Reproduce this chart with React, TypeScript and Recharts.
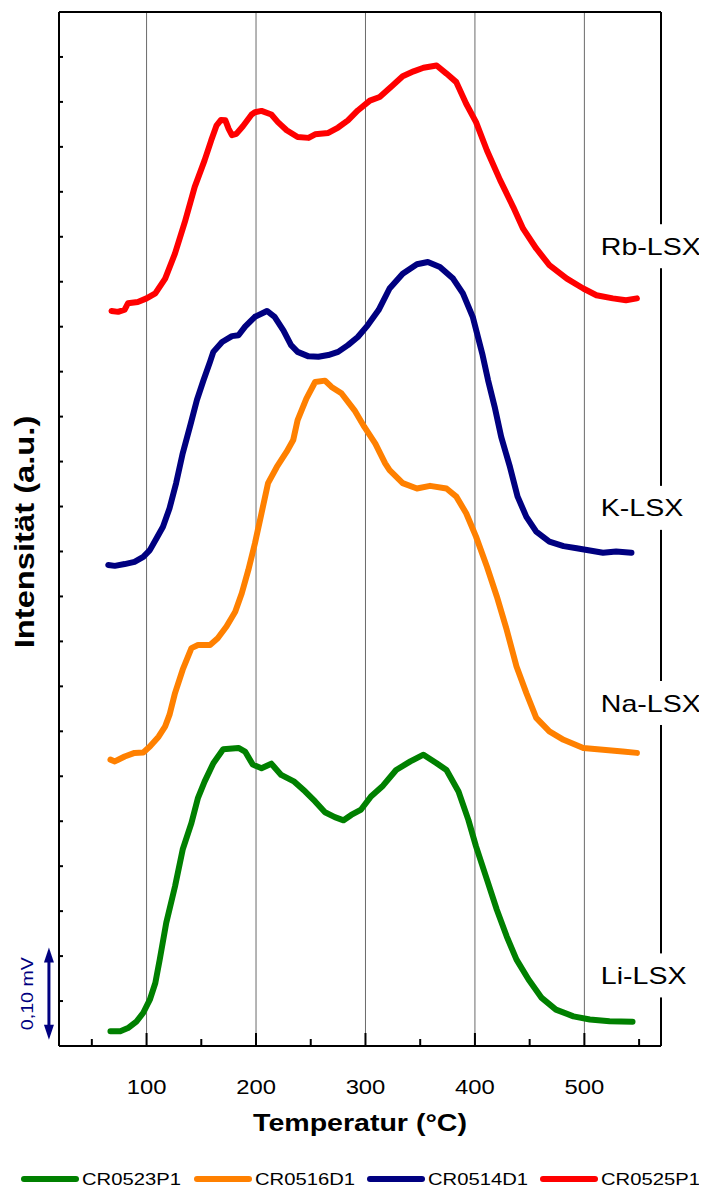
import React from 'react';
import { LineChart, Line, XAxis, YAxis, ReferenceLine, ReferenceDot, Legend, Label } from 'recharts';

// ---------- data ----------
const xTicks = [50, 100, 150, 200, 250, 300, 350, 400, 450, 500, 550];
const xMajor = [100, 200, 300, 400, 500];
const yTicks = Array.from({ length: 24 }, (_, i) => i);

// Li-LSX (CR0523P1)
const greenT = [67, 76, 83, 91, 97, 103, 108, 112, 118, 126, 133, 141, 147, 153, 161, 170, 184, 190, 197, 205, 214, 223, 235, 245, 254, 263, 272, 280, 287, 296, 305, 316, 328, 341, 353, 365, 374, 385, 394, 401, 411, 420, 429, 438, 449, 461, 474, 490, 505, 523, 544];
const greenV = [0.33, 0.33, 0.40, 0.55, 0.74, 1.03, 1.40, 1.92, 2.74, 3.55, 4.37, 4.96, 5.52, 5.88, 6.29, 6.60, 6.63, 6.55, 6.26, 6.18, 6.28, 6.03, 5.88, 5.66, 5.44, 5.20, 5.09, 5.02, 5.14, 5.26, 5.55, 5.79, 6.14, 6.33, 6.48, 6.29, 6.14, 5.66, 5.03, 4.44, 3.70, 3.03, 2.44, 1.92, 1.48, 1.07, 0.81, 0.66, 0.59, 0.55, 0.54];

// Na-LSX (CR0516D1)
const orangeT = [67, 71, 80, 89, 97, 103, 111, 117, 121, 126, 133, 141, 147, 158, 165, 173, 181, 187, 193, 199, 205, 211, 219, 228, 234, 238, 246, 254, 263, 269, 278, 290, 299, 309, 318, 322, 334, 347, 359, 374, 383, 392, 401, 411, 420, 429, 438, 447, 456, 468, 481, 499, 517, 535, 548];
const orangeV = [6.37, 6.33, 6.44, 6.52, 6.53, 6.66, 6.88, 7.11, 7.37, 7.85, 8.37, 8.85, 8.92, 8.92, 9.07, 9.33, 9.66, 10.07, 10.59, 11.18, 11.85, 12.52, 12.88, 13.22, 13.48, 13.92, 14.40, 14.77, 14.80, 14.66, 14.52, 14.14, 13.77, 13.40, 12.96, 12.81, 12.52, 12.40, 12.46, 12.40, 12.22, 11.85, 11.33, 10.66, 10.00, 9.26, 8.44, 7.85, 7.30, 7.00, 6.81, 6.63, 6.59, 6.55, 6.52];

// K-LSX (CR0514D1)
const blueT = [65, 71, 80, 89, 97, 103, 109, 115, 121, 127, 133, 140, 146, 152, 158, 161, 169, 178, 184, 190, 199, 210, 217, 225, 232, 238, 248, 257, 266, 275, 284, 293, 302, 312, 322, 334, 347, 357, 368, 380, 389, 398, 407, 412, 418, 424, 432, 439, 447, 456, 468, 481, 493, 505, 517, 529, 543];
const blueV = [10.70, 10.68, 10.72, 10.77, 10.88, 11.03, 11.29, 11.55, 11.96, 12.52, 13.18, 13.81, 14.37, 14.81, 15.22, 15.44, 15.66, 15.79, 15.81, 16.00, 16.22, 16.35, 16.22, 15.92, 15.59, 15.44, 15.34, 15.33, 15.37, 15.44, 15.59, 15.77, 16.03, 16.37, 16.85, 17.18, 17.39, 17.44, 17.33, 17.07, 16.74, 16.22, 15.37, 14.81, 14.22, 13.55, 12.88, 12.22, 11.77, 11.44, 11.22, 11.12, 11.07, 11.02, 10.97, 11.00, 10.97];

// Rb-LSX (CR0525P1)
const redT = [68, 74, 80, 83, 92, 100, 108, 117, 126, 135, 144, 153, 159, 164, 168, 172, 175, 178, 182, 188, 196, 199, 205, 214, 220, 228, 238, 248, 254, 266, 275, 284, 293, 304, 313, 325, 334, 344, 353, 365, 374, 383, 392, 401, 411, 423, 435, 444, 456, 468, 484, 499, 511, 526, 538, 548];
const redV = [16.35, 16.33, 16.38, 16.52, 16.55, 16.63, 16.74, 17.07, 17.63, 18.33, 19.11, 19.70, 20.14, 20.48, 20.60, 20.59, 20.40, 20.26, 20.29, 20.46, 20.72, 20.77, 20.80, 20.72, 20.55, 20.37, 20.22, 20.20, 20.28, 20.31, 20.43, 20.59, 20.81, 21.03, 21.11, 21.37, 21.57, 21.68, 21.76, 21.81, 21.63, 21.44, 20.96, 20.55, 19.92, 19.26, 18.66, 18.18, 17.74, 17.37, 17.07, 16.85, 16.70, 16.63, 16.59, 16.63];

const seriesNames = ['CR0523P1', 'CR0516D1', 'CR0514D1', 'CR0525P1'];
const seriesColors = ['#008000', '#ff8000', '#000080', '#ff0000'];

const sampleLabels = ['Li-LSX', 'Na-LSX', 'K-LSX', 'Rb-LSX'];
const sampleLabelT = [515, 515, 515, 515];
const sampleLabelV = [1.57, 7.63, 11.97, 17.79];

// scale bar: 0,10 mV
const scaleBarT = 10.8;
const scaleBarV = [0.14, 2.19];

const zip = (t: number[], v: number[]) => t.map((x, i) => ({ t: x, v: v[i] }));
const seriesData = [zip(greenT, greenV), zip(orangeT, orangeV), zip(blueT, blueV), zip(redT, redV)];

// ---------- styling helpers ----------
const FONT = '"Liberation Sans", Arial, Helvetica, sans-serif';
const STRETCH = 1.19;

const SText = ({ x, y, size, bold, anchor = 'start', rotate = 0, fill = '#000', dy, children }: any) => (
  <text
    transform={`translate(${x},${y}) rotate(${rotate}) scale(${STRETCH},1)`}
    x={0}
    y={0}
    dy={dy}
    textAnchor={anchor}
    fontSize={size}
    fontWeight={bold ? 'bold' : 'normal'}
    fontFamily={FONT}
    fill={fill}
  >
    {children}
  </text>
);

const XTick = (props: any) => {
  const { x, y, payload } = props;
  const major = xMajor.includes(payload.value);
  return (
    <g>
      <line x1={x} x2={x} y1={y} y2={y - (major ? 13 : 7)} stroke="#000" strokeWidth={2} />
      {major && (
        <SText x={x} y={y + 48} size={20} anchor="middle">
          {payload.value}
        </SText>
      )}
    </g>
  );
};

const YTick = (props: any) => {
  const { x, y } = props;
  return <line x1={x} x2={x + 4} y1={y} y2={y} stroke="#000" strokeWidth={2} />;
};

const XTitle = (props: any) => {
  const vb = props.viewBox || { x: 51, y: 1038, width: 602, height: 100 };
  return (
    <SText x={vb.x + vb.width / 2} y={vb.y + 85} size={24} bold anchor="middle">
      Temperatur (°C)
    </SText>
  );
};

const YTitle = (props: any) => {
  const vb = props.viewBox || { x: 0, y: 4, width: 51, height: 1034 };
  return (
    <SText x={16} y={vb.y + vb.height / 2 + 3} size={27.5} bold anchor="middle" rotate={-90} dy="0.35em">
      Intensität (a.u.)
    </SText>
  );
};

const ScaleBar = (props: any) => {
  const { x1, y1, y2 } = props;
  const top = Math.min(y1, y2);
  const bottom = Math.max(y1, y2);
  const c = '#000080';
  return (
    <g>
      <line x1={x1} x2={x1} y1={top + 10} y2={bottom - 10} stroke={c} strokeWidth={3} />
      <polygon points={`${x1},${top} ${x1 - 5},${top + 15} ${x1 + 5},${top + 15}`} fill={c} />
      <polygon points={`${x1},${bottom} ${x1 - 5},${bottom - 15} ${x1 + 5},${bottom - 15}`} fill={c} />
      <SText x={x1 - 22} y={(top + bottom) / 2} size={16.5} anchor="middle" rotate={-90} dy="0.35em" fill={c}>
        0,10 mV
      </SText>
    </g>
  );
};

const makeSampleLabel = (text: string) => (props: any) => {
  const { cx, cy } = props;
  return (
    <g>
      <rect x={cx - 5} y={cy - 22} width={112} height={44} fill="#fff" />
      <SText x={cx} y={cy + 8.6} size={24}>
        {text}
      </SText>
    </g>
  );
};

const LegendContent = () => (
  <svg width={699} height={43} style={{ display: 'block' }}>
    {seriesNames.map((name, i) => {
      const b = 13 + 173 * i;
      return (
        <g key={name}>
          <line x1={b + 3} x2={b + 55} y1={33} y2={33} stroke={seriesColors[i]} strokeWidth={6} strokeLinecap="round" />
          <SText x={b + 61} y={39.1} size={17}>
            {name}
          </SText>
        </g>
      );
    })}
  </svg>
);

export default function App() {
  return (
    <LineChart width={699} height={1181} margin={{ top: 4, right: 46, left: 0, bottom: 0 }}>
      <XAxis
        dataKey="t"
        type="number"
        domain={[20, 570]}
        ticks={xTicks}
        interval={0}
        allowDataOverflow
        height={100}
        tickSize={0}
        tickMargin={0}
        tickLine={false}
        tick={XTick}
        axisLine={{ stroke: '#000', strokeWidth: 2 }}
      >
        <Label content={XTitle} />
      </XAxis>
      <YAxis
        type="number"
        domain={[0, 23]}
        ticks={yTicks}
        interval={0}
        allowDataOverflow
        width={51}
        tickSize={0}
        tickMargin={0}
        tickLine={false}
        tick={YTick}
        axisLine={{ stroke: '#000', strokeWidth: 2 }}
      >
        <Label content={YTitle} />
      </YAxis>
      {xMajor.map((v) => (
        <ReferenceLine key={'g' + v} x={v} stroke="#6a6a6a" strokeWidth={1} />
      ))}
      <ReferenceLine y={23} stroke="#000" strokeWidth={2} />
      <ReferenceLine x={570} stroke="#000" strokeWidth={2} />
      {seriesNames.map((name, i) => (
        <Line
          key={name}
          name={name}
          data={seriesData[i]}
          dataKey="v"
          type="linear"
          stroke={seriesColors[i]}
          strokeWidth={6}
          strokeLinecap="round"
          strokeLinejoin="round"
          dot={false}
          activeDot={false}
          isAnimationActive={false}
        />
      ))}
      {sampleLabels.map((lab, i) => (
        <ReferenceDot
          key={lab}
          x={sampleLabelT[i]}
          y={sampleLabelV[i]}
          r={0}
          ifOverflow="visible"
          shape={makeSampleLabel(lab)}
        />
      ))}
      <ReferenceLine
        segment={[
          { x: scaleBarT, y: scaleBarV[0] },
          { x: scaleBarT, y: scaleBarV[1] },
        ]}
        ifOverflow="visible"
        shape={ScaleBar}
      />
      <Legend
        verticalAlign="bottom"
        height={43}
        content={LegendContent}
        wrapperStyle={{ left: 0, width: 699, height: 43 }}
      />
    </LineChart>
  );
}
